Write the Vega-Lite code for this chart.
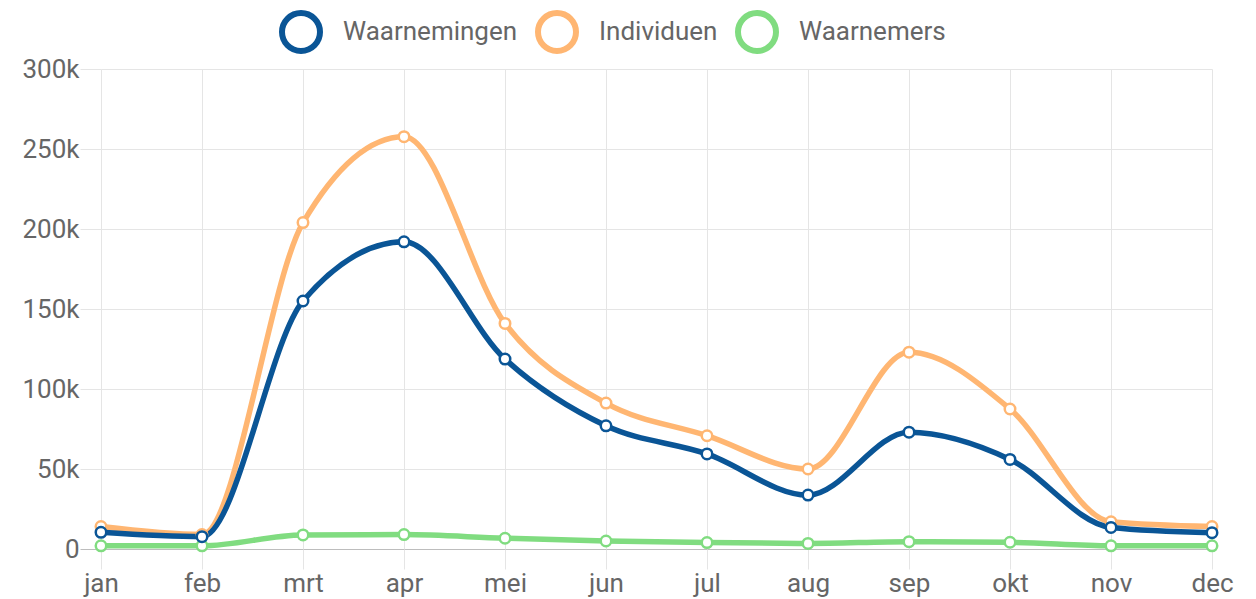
{
  "$schema": "https://vega.github.io/schema/vega-lite/v6.json",
  "width": 1111,
  "height": 480,
  "autosize": {"type": "none"},
  "padding": {"left": 101, "top": 69, "right": 44, "bottom": 50},
  "background": "white",
  "config": {
    "view": {"stroke": null},
    "font": "Roboto"
  },
  "data": {
    "values": [
      {"month": "jan", "series": "Waarnemers", "value": 2000},
      {"month": "feb", "series": "Waarnemers", "value": 2000},
      {"month": "mrt", "series": "Waarnemers", "value": 8800},
      {"month": "apr", "series": "Waarnemers", "value": 9000},
      {"month": "mei", "series": "Waarnemers", "value": 6700},
      {"month": "jun", "series": "Waarnemers", "value": 5000},
      {"month": "jul", "series": "Waarnemers", "value": 4000},
      {"month": "aug", "series": "Waarnemers", "value": 3500},
      {"month": "sep", "series": "Waarnemers", "value": 4600},
      {"month": "okt", "series": "Waarnemers", "value": 4200},
      {"month": "nov", "series": "Waarnemers", "value": 2000},
      {"month": "dec", "series": "Waarnemers", "value": 2000},
      {"month": "jan", "series": "Individuen", "value": 14000},
      {"month": "feb", "series": "Individuen", "value": 9000},
      {"month": "mrt", "series": "Individuen", "value": 204000},
      {"month": "apr", "series": "Individuen", "value": 257700},
      {"month": "mei", "series": "Individuen", "value": 141000},
      {"month": "jun", "series": "Individuen", "value": 91200},
      {"month": "jul", "series": "Individuen", "value": 70800},
      {"month": "aug", "series": "Individuen", "value": 50000},
      {"month": "sep", "series": "Individuen", "value": 123000},
      {"month": "okt", "series": "Individuen", "value": 87500},
      {"month": "nov", "series": "Individuen", "value": 17000},
      {"month": "dec", "series": "Individuen", "value": 14000},
      {"month": "jan", "series": "Waarnemingen", "value": 10400},
      {"month": "feb", "series": "Waarnemingen", "value": 7700},
      {"month": "mrt", "series": "Waarnemingen", "value": 155000},
      {"month": "apr", "series": "Waarnemingen", "value": 192000},
      {"month": "mei", "series": "Waarnemingen", "value": 118700},
      {"month": "jun", "series": "Waarnemingen", "value": 77000},
      {"month": "jul", "series": "Waarnemingen", "value": 59400},
      {"month": "aug", "series": "Waarnemingen", "value": 33700},
      {"month": "sep", "series": "Waarnemingen", "value": 73000},
      {"month": "okt", "series": "Waarnemingen", "value": 56000},
      {"month": "nov", "series": "Waarnemingen", "value": 13500},
      {"month": "dec", "series": "Waarnemingen", "value": 10200}
    ]
  },
  "encoding": {
    "x": {
      "field": "month",
      "type": "ordinal",
      "sort": ["jan", "feb", "mrt", "apr", "mei", "jun", "jul", "aug", "sep", "okt", "nov", "dec"],
      "scale": {"type": "point", "padding": 0},
      "axis": {
        "title": null,
        "domain": false,
        "grid": true,
        "gridColor": "#e5e5e5",
        "gridWidth": 1,
        "ticks": true,
        "tickSize": 20,
        "tickColor": "#e5e5e5",
        "labelAngle": 0,
        "labelFont": "Roboto",
        "labelFontSize": 26,
        "labelColor": "#666666",
        "labelPadding": 1
      }
    },
    "y": {
      "field": "value",
      "type": "quantitative",
      "scale": {"domain": [0, 300000], "nice": false},
      "axis": {
        "title": null,
        "domain": false,
        "values": [0, 50000, 100000, 150000, 200000, 250000, 300000],
        "labelExpr": "datum.value == 0 ? '0' : (datum.value / 1000) + 'k'",
        "grid": true,
        "gridColor": {"condition": {"test": "datum.value === 0", "value": "#bdbdbd"}, "value": "#e5e5e5"},
        "ticks": true,
        "tickSize": 21,
        "tickColor": {"condition": {"test": "datum.value === 0", "value": "#bdbdbd"}, "value": "#e5e5e5"},
        "labelFont": "Roboto",
        "labelFontSize": 26,
        "labelColor": "#666666",
        "labelPadding": 1
      }
    },
    "color": {
      "field": "series",
      "type": "nominal",
      "scale": {
        "domain": ["Waarnemingen", "Individuen", "Waarnemers"],
        "range": ["#0a5596", "#ffb672", "#80dc80"]
      },
      "legend": {
        "title": null,
        "orient": "none",
        "direction": "horizontal",
        "legendX": 178,
        "legendY": -59,
        "padding": 0,
        "symbolType": "circle",
        "symbolSize": 1444,
        "symbolStrokeWidth": 6,
        "symbolFillColor": "white",
        "labelFont": "Roboto",
        "labelFontSize": 26,
        "labelColor": "#666666",
        "labelLimit": 400,
        "labelOffset": 20,
        "columnPadding": 8
      }
    }
  },
  "layer": [
    {"mark": {"type": "line", "interpolate": "monotone", "strokeWidth": 5.5}},
    {"mark": {"type": "point", "filled": false, "fill": "white", "opacity": 1, "size": 110, "strokeWidth": 2.5}}
  ]
}
